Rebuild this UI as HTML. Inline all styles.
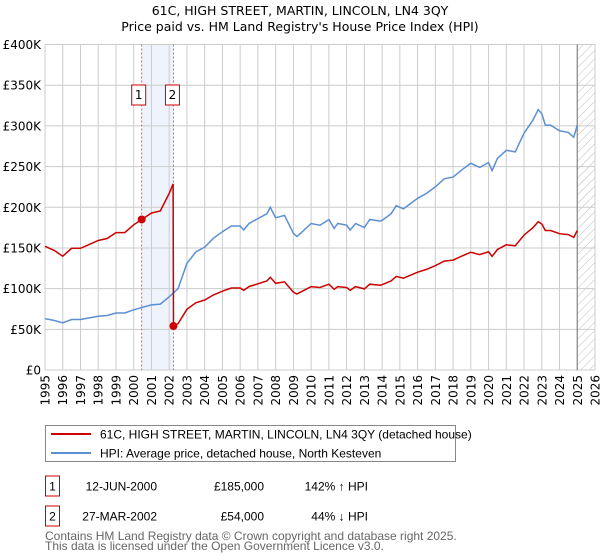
<!DOCTYPE html>
<html><head><meta charset="utf-8"><style>
body{margin:0;background:#fff;font-family:"DejaVu Sans","Liberation Sans",sans-serif;}
#wrap{position:relative;width:600px;height:560px;overflow:hidden}
svg text{font-family:"DejaVu Sans","Liberation Sans",sans-serif}
svg text.lib{font-family:"Liberation Sans","DejaVu Sans",sans-serif}
</style></head><body><div id="wrap">
<svg id="chart" width="600" height="560">
<defs><pattern id="hatch" width="6" height="6" patternUnits="userSpaceOnUse" patternTransform="rotate(45)"><line x1="0" y1="0" x2="0" y2="6" stroke="#bbb" stroke-width="1"/></pattern></defs>
<text x="300" y="15" text-anchor="middle" font-size="12.5" fill="#000">61C, HIGH STREET, MARTIN, LINCOLN, LN4 3QY</text>
<text x="300" y="31" text-anchor="middle" font-size="12.5" fill="#000">Price paid vs. HM Land Registry's House Price Index (HPI)</text>
<g id="grid"></g><g id="marks"></g><g id="axes"></g>
</svg>
<script>
const years=[1995,1995.5,1996,1996.5,1997,1997.5,1998,1998.5,1999,1999.5,2000,2000.5,2001,2001.5,2002,2002.5,2003,2003.5,2004,2004.5,2005,2005.5,2006,2006.2,2006.5,2007,2007.5,2007.7,2008,2008.5,2009,2009.2,2009.5,2010,2010.5,2011,2011.3,2011.5,2012,2012.2,2012.5,2013,2013.3,2013.9,2014,2014.5,2014.8,2015.2,2016,2016.5,2017,2017.5,2018,2018.5,2019,2019.5,2020,2020.2,2020.5,2021,2021.5,2022,2022.5,2022.8,2023,2023.2,2023.5,2024,2024.5,2024.8,2025];
const hpi=[63,61,58,62,62,64,66,67,70,70,74,77,80,81,90,100,131,145,151,162,170,177,177,172,180,186,192,200,187,190,168,164,170,180,178,185,174,180,178,172,180,175,185,183,184,192,202,198,211,217,225,235,237,246,254,249,255,245,260,270,268,291,307,320,315,301,301,294,292,286,301];
const saleDates=[2000.45,2002.24];
const salePrices=[185,54];
const saleLabels=["1","2"];
const yTicks=[0,50,100,150,200,250,300,350,400];
const yTickLabels=["£0","£50K","£100K","£150K","£200K","£250K","£300K","£350K","£400K"];
const xTicks=[1995,1996,1997,1998,1999,2000,2001,2002,2003,2004,2005,2006,2007,2008,2009,2010,2011,2012,2013,2014,2015,2016,2017,2018,2019,2020,2021,2022,2023,2024,2025,2026];
const legendLabels=["61C, HIGH STREET, MARTIN, LINCOLN, LN4 3QY (detached house)","HPI: Average price, detached house, North Kesteven"];
const tableDates=["12-JUN-2000","27-MAR-2002"];
const tablePrices=["£185,000","£54,000"];
const tablePct=["142% ↑ HPI","44% ↓ HPI"];

const X0=45,X1=595,Y0=370,Y1=44.5;
const x=v=>X0+(v-1995)/(2026-1995)*(X1-X0);
const y=v=>Y0-v/400*(Y0-Y1);
const NS="http://www.w3.org/2000/svg";
function mk(tag,attrs,parent,text){const e=document.createElementNS(NS,tag);for(const k in attrs)e.setAttribute(k,attrs[k]);if(text!==undefined)e.textContent=text;parent.appendChild(e);return e;}
const grid=document.getElementById('grid'),marks=document.getElementById('marks'),axes=document.getElementById('axes');
function hpiAt(t){for(let i=1;i<years.length;i++){if(t<=years[i]){const f=(t-years[i-1])/(years[i]-years[i-1]);return hpi[i-1]+f*(hpi[i]-hpi[i-1]);}}return hpi[hpi.length-1];}
const band=mk('rect',{x:x(saleDates[0]),y:Y1,width:x(saleDates[1])-x(saleDates[0]),height:Y0-Y1,fill:'#eef3fc'},grid);


const hz=mk('rect',{x:x(2025),y:Y1,width:X1-x(2025),height:Y0-Y1,fill:'url(#hatch)'},grid);


yTicks.forEach((v,i)=>{
 const l=mk('line',{x1:X0,x2:X1,y1:y(v),y2:y(v),stroke:'#ccc','stroke-width':1},grid);
 
 
 const t=mk('text',{x:X0-4,y:y(v)+4.5,'text-anchor':'end','font-size':12,fill:'#000'},axes,yTickLabels[i]);
 
 
});
xTicks.forEach(v=>{
 const l=mk('line',{x1:x(v),x2:x(v),y1:Y1,y2:Y0,stroke:'#ccc','stroke-width':1},grid);
 
 
 const t=mk('text',{x:0,y:0,'text-anchor':'end','font-size':12,fill:'#000',transform:`translate(${x(v)+4.5},${Y0+5}) rotate(-90)`},axes,String(v));
 
 
});
const vl=mk('line',{x1:x(2025),x2:x(2025),y1:Y1,y2:Y0,stroke:'#888','stroke-width':1.2},grid);


saleDates.forEach((d,i)=>{
 const l=mk('line',{x1:x(d),x2:x(d),y1:Y1,y2:Y0,stroke:'#e06060','stroke-width':1,'stroke-dasharray':'2,2'},grid);
 
 
 const r=mk('rect',{x:x(d)-(i==0?10:8),y:85,width:14,height:20,fill:'#fff',stroke:'#c00','stroke-width':1},marks);
 
 
 const t=mk('text',{x:x(d)-(i==0?3:1),y:99,'text-anchor':'middle','font-size':12,fill:'#000'},marks,saleLabels[i]);
 
 
});
let p='';years.forEach((t,i)=>{p+=(i?'L':'M')+x(t).toFixed(1)+','+y(hpi[i]).toFixed(1);});
const hl=mk('path',{d:p,fill:'none',stroke:'#5b8fd4','stroke-width':1.5},marks);


const r1=salePrices[0]/hpiAt(saleDates[0]),r2=salePrices[1]/hpiAt(saleDates[1]);
let pts=[];
years.forEach((t,i)=>{if(t<saleDates[1])pts.push([t,hpi[i]*r1]);});
pts.push([saleDates[1]-0.02,hpiAt(saleDates[1])*r1]);
pts.push([saleDates[1],salePrices[1]]);
years.forEach((t,i)=>{if(t>saleDates[1])pts.push([t,hpi[i]*r2]);});
let q='';pts.forEach((pt,i)=>{q+=(i?'L':'M')+x(pt[0]).toFixed(1)+','+y(pt[1]).toFixed(1);});
const pl=mk('path',{d:q,fill:'none',stroke:'#cc0000','stroke-width':1.5},marks);


saleDates.forEach((d,i)=>{
 const c=mk('circle',{cx:x(d),cy:y(salePrices[i]),r:4,fill:'#cc0000'},marks);
 
 
});
const lg=mk('g',{},axes);


mk('rect',{x:45.5,y:425.5,width:410,height:36,fill:'#fff',stroke:'#888'},lg);
['#cc0000','#5b8fd4'].forEach((c,i)=>{
 const yy=434+i*19;
 const ln=mk('line',{x1:51,x2:91,y1:yy,y2:yy,stroke:c,'stroke-width':2},lg);
 
 
 const t=mk('text',{x:100,y:yy+4.5,'font-size':12,fill:'#000',class:'lib'},lg,legendLabels[i]);
 
 
});
tableDates.forEach((d,i)=>{
 const yy=486+i*30;
 const b=mk('rect',{x:45.5,y:yy-10,width:14,height:20,fill:'#fff',stroke:'#c00'},axes);
 
 
 const n=mk('text',{x:52.5,y:yy+4.5,'text-anchor':'middle','font-size':12,fill:'#000',class:'lib'},axes,saleLabels[i]);
 
 
 const a=mk('text',{x:157,y:yy+4.5,'text-anchor':'end','font-size':12,fill:'#000',class:'lib'},axes,d);
 
 
 const b2=mk('text',{x:264,y:yy+4.5,'text-anchor':'end','font-size':12,fill:'#000',class:'lib'},axes,tablePrices[i]);
 
 
 const c=mk('text',{x:368,y:yy+4.5,'text-anchor':'end','font-size':12,fill:'#000',class:'lib'},axes,tablePct[i]);
 
 
});
const f1=mk('text',{x:45,y:540,'font-size':12,fill:'#666',class:'lib'},axes,'Contains HM Land Registry data © Crown copyright and database right 2025.');


const f2=mk('text',{x:45,y:550,'font-size':12,fill:'#666',class:'lib'},axes,'This data is licensed under the Open Government Licence v3.0.');


</script>
</div></body></html>
